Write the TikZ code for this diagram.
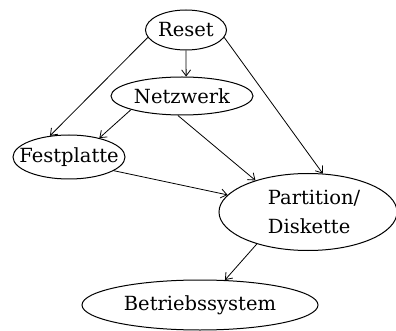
\documentclass[tikz,border=0pt]{standalone}
\usepackage{fontspec}
\setmainfont{DejaVu Serif}
\usetikzlibrary{shapes.geometric,arrows.meta}
\tikzset{
  ell/.style n args={2}{draw, ellipse, line width=1pt, inner sep=0pt,
    minimum width=#1pt, minimum height=#2pt},
  txt/.style={font=\fontsize{19.5}{29}\selectfont, inner sep=0pt},
  conn/.style={line width=0.8pt, -{Straight Barb[length=6pt,width=9pt]}}
}
\begin{document}
\begin{tikzpicture}[x=1pt,y=-1pt]
\useasboundingbox (0,0) rectangle (396,331);
\node[ell={81}{40}, label={[txt,name=resett]center:Reset}] (reset) at (186,30) {};
\node[ell={142}{38}, label={[txt,name=netzt]center:Netzwerk}] (netz) at (182,96) {};
\node[ell={112}{44}, label={[txt,name=festt]center:Festplatte}] (fest) at (69,157) {};
\node[ell={178}{77}] (part) at (308,212) {};
\node[txt, align=left] (partt) at (314,212) {Partition/\\Diskette};
\node[ell={236}{50}, label={[txt,name=betrt]center:Betriebssystem}] (betr) at (200,305) {};
\draw[conn] (reset.191.6) -- (fest.132);
\draw[conn] (reset.south) -- (netz.78);
\draw[conn] (reset.349) -- (part.69);
\draw[conn] (netz.195) -- (fest.32);
\draw[conn] (netz.258) -- (part.149);
\draw[conn] (fest.343) -- (part.168);
\draw[conn] (part.212) -- (betr.45);
\end{tikzpicture}
\end{document}
